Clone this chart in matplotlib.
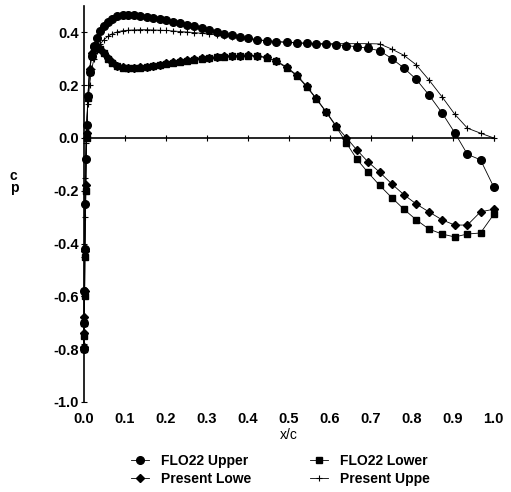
import matplotlib.pyplot as plt

# chordwise stations (shared by all four series)
xc = [0.0, 0.0005, 0.001, 0.002, 0.003, 0.005, 0.007, 0.01, 0.014, 0.019,
      0.025, 0.032, 0.04, 0.049, 0.059, 0.07, 0.082,
      0.095, 0.109, 0.123, 0.138, 0.153, 0.169, 0.185, 0.201, 0.218,
      0.235, 0.252, 0.27, 0.288, 0.306, 0.324, 0.343, 0.362, 0.381,
      0.40, 0.423, 0.446, 0.47, 0.495, 0.52, 0.544, 0.567, 0.591, 0.616,
      0.641, 0.666, 0.693, 0.722, 0.752, 0.781, 0.811, 0.842, 0.874,
      0.905, 0.936, 0.968, 1.0]

flo22_upper = [-0.80, -0.70, -0.58, -0.42, -0.25, -0.08, 0.05, 0.16, 0.25, 0.31,
               0.35, 0.38, 0.405, 0.425, 0.44, 0.452, 0.46,
               0.465, 0.467, 0.466, 0.463, 0.459, 0.455, 0.45, 0.445, 0.44,
               0.434, 0.428, 0.422, 0.415, 0.408, 0.401, 0.394, 0.388, 0.382,
               0.377, 0.372, 0.368, 0.365, 0.362, 0.36, 0.358, 0.356, 0.354, 0.352,
               0.35, 0.345, 0.34, 0.33, 0.30, 0.265, 0.222, 0.163, 0.095,
               0.02, -0.062, -0.083, -0.185]

present_upper = [-0.78, -0.60, -0.45, -0.30, -0.15, -0.02, 0.06, 0.13, 0.20, 0.26,
                 0.30, 0.33, 0.355, 0.372, 0.385, 0.395, 0.402,
                 0.406, 0.408, 0.409, 0.41, 0.41, 0.409, 0.408, 0.407, 0.405,
                 0.403, 0.401, 0.399, 0.396, 0.393, 0.39, 0.387, 0.384, 0.38,
                 0.377, 0.372, 0.368, 0.365, 0.362, 0.36, 0.359, 0.358, 0.357, 0.357,
                 0.357, 0.357, 0.357, 0.356, 0.336, 0.313, 0.277, 0.22, 0.156,
                 0.09, 0.037, 0.018, 0.0]

flo22_lower = [-0.80, -0.75, -0.70, -0.60, -0.45, -0.20, 0.0, 0.15, 0.25, 0.31,
               0.34, 0.345, 0.335, 0.32, 0.30, 0.285, 0.272,
               0.266, 0.264, 0.264, 0.266, 0.269, 0.273, 0.277, 0.281, 0.285,
               0.289, 0.293, 0.297, 0.30, 0.303, 0.306, 0.308, 0.31, 0.311,
               0.312, 0.31, 0.303, 0.29, 0.265, 0.235, 0.193, 0.148, 0.098, 0.042,
               -0.02, -0.08, -0.13, -0.18, -0.227, -0.27, -0.31, -0.345, -0.364,
               -0.375, -0.364, -0.36, -0.29]

present_lower = [-0.79, -0.74, -0.68, -0.58, -0.43, -0.18, 0.02, 0.16, 0.26, 0.32,
                 0.345, 0.348, 0.338, 0.322, 0.302, 0.287, 0.274,
                 0.268, 0.265, 0.265, 0.267, 0.27, 0.274, 0.278, 0.282, 0.286,
                 0.29, 0.294, 0.298, 0.301, 0.304, 0.307, 0.309, 0.311, 0.312,
                 0.313, 0.311, 0.305, 0.292, 0.268, 0.238, 0.196, 0.15, 0.1, 0.045,
                 0.0, -0.045, -0.09, -0.13, -0.175, -0.215, -0.25, -0.28, -0.31,
                 -0.33, -0.33, -0.28, -0.27]

xticks = [0.0, 0.1, 0.2, 0.3, 0.4, 0.5, 0.6, 0.7, 0.8, 0.9, 1.0]
yticks = [0.4, 0.2, 0.0, -0.2, -0.4, -0.6, -0.8, -1.0]

plt.rcParams['font.family'] = ['Liberation Sans', 'DejaVu Sans']
plt.rcParams['font.weight'] = 'bold'

fig = plt.figure(figsize=(5.11, 4.92), dpi=100)
ax = fig.add_axes([0.164, 0.183, 0.802, 0.805])

ax.plot(xc, flo22_upper, color="black", linewidth=0.6, marker="o", markersize=5.5,
        label="FLO22 Upper", clip_on=False)
ax.plot(xc, present_lower, color="black", linewidth=0.6, marker="D", markersize=4.5,
        label="Present Lowe", clip_on=False)
ax.plot(xc, flo22_lower, color="black", linewidth=0.6, marker="s", markersize=5,
        label="FLO22 Lower", clip_on=False)
ax.plot(xc, present_upper, color="black", linewidth=0.6, marker="+", markersize=4,
        markeredgewidth=0.8, label="Present Uppe", clip_on=False)

ax.set_xlim(0, 1.0)
ax.set_ylim(-1.0, 0.5)

ax.spines['top'].set_visible(False)
ax.spines['right'].set_visible(False)
ax.spines['bottom'].set_position(('data', 0))
ax.spines['left'].set_linewidth(1.2)
ax.spines['bottom'].set_linewidth(1.2)

ax.set_xticks(xticks)
ax.tick_params(axis='x', direction='inout', length=4, labelbottom=False)
ax.set_yticks(yticks)
ax.set_yticklabels(["%.1f" % v for v in yticks], fontsize=10.5)
ax.tick_params(axis='y', direction='inout', length=5, pad=1)

sec = ax.secondary_xaxis('bottom')
sec.set_xticks(xticks)
sec.set_xticklabels(["%.1f" % v for v in xticks], fontsize=10.5)
sec.tick_params(length=0, pad=7)
sec.spines['bottom'].set_visible(False)
sec.set_xlabel("x/c", fontsize=10, labelpad=2)

fig.text(0.027, 0.63, "c\np", fontsize=10, ha="center", va="center", linespacing=0.9)

ax.legend(loc="upper center", bbox_to_anchor=(0.48, -0.10), ncol=2, frameon=False,
          fontsize=10, handlelength=1.3, columnspacing=4.2, labelspacing=0.3,
          handletextpad=0.9)

plt.savefig("out.png", dpi=100)
